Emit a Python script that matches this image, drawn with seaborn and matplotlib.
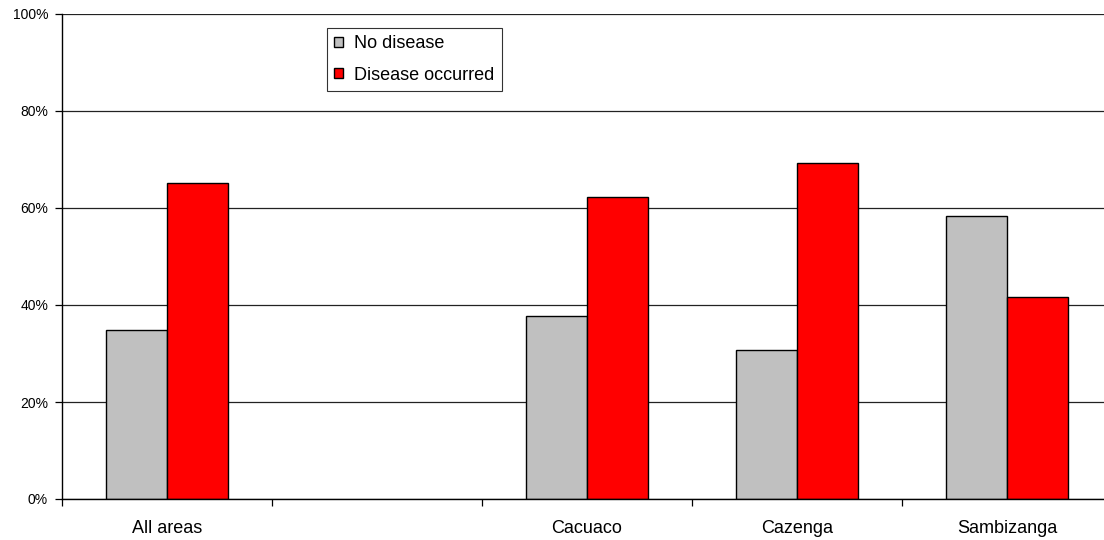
import matplotlib
matplotlib.use("Agg")
import matplotlib.pyplot as plt
import numpy as np
import pandas as pd
import seaborn as sns
from matplotlib.ticker import PercentFormatter

areas = ["All areas", "", "Cacuaco", "Cazenga", "Sambizanga"]
no_disease = [34.9, np.nan, 37.7, 30.8, 58.4]
disease = [65.1, np.nan, 62.3, 69.2, 41.6]
series = ["No disease", "Disease occurred"]

df = pd.DataFrame({
    "area": areas * 2,
    "status": [series[0]] * len(areas) + [series[1]] * len(areas),
    "pct": no_disease + disease,
})

sns.set_theme(style="white", rc={"text.color": "black", "xtick.color": "black",
                                 "ytick.color": "black"})
plt.rcParams["font.family"] = ["Liberation Sans", "DejaVu Sans"]

fig = plt.figure(figsize=(11.04, 5.4), dpi=100)
ax = fig.add_axes([62 / 1104, 1 - 499 / 540, 1050 / 1104, 485 / 540])

sns.barplot(
    data=df, x="area", y="pct", hue="status", order=areas, hue_order=series,
    palette=["#c0c0c0", "#ff0000"], width=0.58, gap=0, edgecolor="black",
    linewidth=1, saturation=1, ax=ax, legend=True,
)

ax.set_xlim(-0.5, 4.5)
ax.set_ylim(0, 100)
ax.set_yticks(range(0, 101, 20))
ax.yaxis.set_major_formatter(PercentFormatter(decimals=0))
ax.yaxis.grid(True, color="#222222", linewidth=0.9)
ax.set_axisbelow(True)

# ticks at category edges, labels at centres
ax.set_xticks(np.arange(-0.5, 4.6, 1.0))
ax.set_xticklabels([])
ax.set_xticks(range(len(areas)), minor=True)
ax.set_xticklabels(areas, minor=True, fontsize=13)
ax.tick_params(axis="x", which="major", direction="out", length=5, width=0.9,
               color="black", bottom=True)
ax.tick_params(axis="x", which="minor", length=0, pad=15)
ax.tick_params(axis="y", direction="out", length=5, width=0.9, color="black",
               left=True, labelsize=10, pad=5)

for s in ["top", "right"]:
    ax.spines[s].set_visible(False)
for s in ["left", "bottom"]:
    ax.spines[s].set_color("black")
    ax.spines[s].set_linewidth(1)

ax.set_xlabel("")
ax.set_ylabel("")

leg = ax.legend(
    loc="upper left", bbox_to_anchor=(327 / 1104, 1 - 28 / 540),
    bbox_transform=fig.transFigure, frameon=True, fancybox=False,
    fontsize=13, handlelength=0.5, handleheight=0.5, handletextpad=0.6,
    borderpad=0.4, labelspacing=0.8, borderaxespad=0,
)
leg.get_frame().set_edgecolor("black")
leg.get_frame().set_linewidth(0.8)

fig.savefig("out.png", dpi=100)
